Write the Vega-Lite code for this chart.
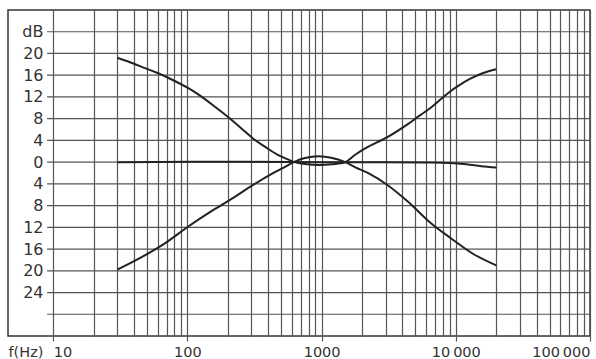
{
  "$schema": "https://vega.github.io/schema/vega-lite/v6.json",
  "width": 582,
  "height": 326,
  "autosize": {"type": "none"},
  "padding": {"left": 8, "top": 10, "right": 6, "bottom": 23},
  "background": "white",
  "config": {"view": {"stroke": "#333", "strokeWidth": 1.5}, "axis": {"labelOverlap": false}},
  "datasets": {
    "hgrid": [
      {"db": -28}, {"db": -24}, {"db": -20}, {"db": -16}, {"db": -12}, {"db": -8}, {"db": -4},
      {"db": 0}, {"db": 4}, {"db": 8}, {"db": 12}, {"db": 16}, {"db": 20}, {"db": 24}
    ],
    "curves": [
      {"series": "A", "f": 30, "db": 19.2},
      {"series": "A", "f": 40, "db": 18.1},
      {"series": "A", "f": 47, "db": 17.4},
      {"series": "A", "f": 60, "db": 16.4},
      {"series": "A", "f": 75, "db": 15.3},
      {"series": "A", "f": 100, "db": 13.7},
      {"series": "A", "f": 125, "db": 12.2},
      {"series": "A", "f": 160, "db": 10.2},
      {"series": "A", "f": 203, "db": 8.2},
      {"series": "A", "f": 250, "db": 6.3},
      {"series": "A", "f": 313, "db": 4.2},
      {"series": "A", "f": 380, "db": 2.8},
      {"series": "A", "f": 467, "db": 1.4},
      {"series": "A", "f": 560, "db": 0.5},
      {"series": "A", "f": 620, "db": 0.05},
      {"series": "A", "f": 750, "db": -0.35},
      {"series": "A", "f": 955, "db": -0.55},
      {"series": "A", "f": 1200, "db": -0.4},
      {"series": "A", "f": 1500, "db": 0},
      {"series": "A", "f": 1800, "db": 1.45},
      {"series": "A", "f": 2193, "db": 2.75},
      {"series": "A", "f": 3090, "db": 4.6},
      {"series": "A", "f": 4365, "db": 6.95},
      {"series": "A", "f": 5400, "db": 8.6},
      {"series": "A", "f": 6500, "db": 10.0},
      {"series": "A", "f": 7800, "db": 11.65},
      {"series": "A", "f": 9180, "db": 13.1},
      {"series": "A", "f": 11000, "db": 14.4},
      {"series": "A", "f": 12950, "db": 15.4},
      {"series": "A", "f": 16000, "db": 16.4},
      {"series": "A", "f": 20000, "db": 17.1},
      {"series": "B", "f": 30, "db": -19.8},
      {"series": "B", "f": 47, "db": -17.3},
      {"series": "B", "f": 66.5, "db": -15.1},
      {"series": "B", "f": 102, "db": -11.8},
      {"series": "B", "f": 149, "db": -9.1},
      {"series": "B", "f": 209, "db": -6.9},
      {"series": "B", "f": 313, "db": -4.1},
      {"series": "B", "f": 441, "db": -1.95},
      {"series": "B", "f": 530, "db": -0.9},
      {"series": "B", "f": 620, "db": 0},
      {"series": "B", "f": 750, "db": 0.75},
      {"series": "B", "f": 955, "db": 1.1},
      {"series": "B", "f": 1200, "db": 0.75},
      {"series": "B", "f": 1500, "db": 0},
      {"series": "B", "f": 1800, "db": -1.0},
      {"series": "B", "f": 2193, "db": -1.95},
      {"series": "B", "f": 3090, "db": -4.2},
      {"series": "B", "f": 4365, "db": -7.2},
      {"series": "B", "f": 6500, "db": -11.2},
      {"series": "B", "f": 9180, "db": -14.0},
      {"series": "B", "f": 13700, "db": -17.0},
      {"series": "B", "f": 20000, "db": -19.0},
      {"series": "C", "f": 30, "db": 0},
      {"series": "C", "f": 100, "db": 0.05},
      {"series": "C", "f": 300, "db": 0.05},
      {"series": "C", "f": 1000, "db": 0},
      {"series": "C", "f": 3000, "db": 0},
      {"series": "C", "f": 6000, "db": -0.05},
      {"series": "C", "f": 9000, "db": -0.15},
      {"series": "C", "f": 12000, "db": -0.4},
      {"series": "C", "f": 15500, "db": -0.75},
      {"series": "C", "f": 20000, "db": -1.0}
    ]
  },
  "layer": [
    {
      "data": {"name": "hgrid"},
      "mark": {"type": "rule", "color": "#555", "strokeWidth": 1.2},
      "encoding": {
        "x": {"datum": 9, "type": "quantitative"},
        "x2": {"datum": 100000},
        "y": {"field": "db", "type": "quantitative"}
      }
    },
    {
      "data": {"name": "curves"},
      "mark": {"type": "line", "color": "#222", "strokeWidth": 2, "interpolate": "catmull-rom"},
      "encoding": {
        "x": {
          "field": "f",
          "type": "quantitative",
          "scale": {"type": "log", "domain": [4.6, 100000], "nice": false},
          "axis": {
            "values": [10,20,30,40,50,60,70,80,90,100,200,300,400,500,600,700,800,900,1000,2000,3000,4000,5000,6000,7000,8000,9000,10000,20000,30000,40000,50000,60000,70000,80000,90000,100000],
            "tickCount": 200,
            "grid": true,
            "gridColor": "#555",
            "gridWidth": 1.2,
            "domain": false,
            "ticks": true,
            "tickSize": 5,
            "tickColor": "#555",
            "tickWidth": 1.2,
            "tickOpacity": {"condition": {"test": "indexof([10,100,1000,10000,100000], datum.value) < 0", "value": 0}, "value": 1},
            "labelExpr": "datum.value == 10 ? '10' : datum.value == 100 ? '100' : datum.value == 1000 ? '1000' : datum.value == 10000 ? '10\u2009000' : datum.value == 100000 ? '100\u2009000' : ''",
            "labelFlush": 50,
            "labelOverlap": false,
            "labelFont": "DejaVu Sans",
            "labelFontSize": 14.5,
            "labelColor": "#333",
            "labelBaseline": "alphabetic",
            "labelPadding": 15,
            "title": "f(Hz)",
            "titleX": 0,
            "titleY": 20,
            "titleAlign": "left",
            "titleBaseline": "alphabetic",
            "titleFont": "DejaVu Sans",
            "titleFontSize": 14.5,
            "titleFontWeight": "normal",
            "titleColor": "#333"
          }
        },
        "y": {
          "field": "db",
          "type": "quantitative",
          "scale": {"domain": [-32, 28], "nice": false, "zero": false},
          "axis": {
            "values": [-24,-20,-16,-12,-8,-4,0,4,8,12,16,20,24],
            "tickCount": 100,
            "grid": false,
            "domain": false,
            "ticks": false,
            "tickSize": 0,
            "labelPadding": -35,
            "labelAlign": "right",
            "labelBaseline": "middle",
            "labelExpr": "datum.value == 24 ? 'dB' : format(abs(datum.value), 'd')",
            "labelOverlap": false,
            "labelFont": "DejaVu Sans",
            "labelFontSize": 16,
            "labelColor": "#333",
            "title": null
          }
        },
        "detail": {"field": "series"}
      }
    }
  ]
}
